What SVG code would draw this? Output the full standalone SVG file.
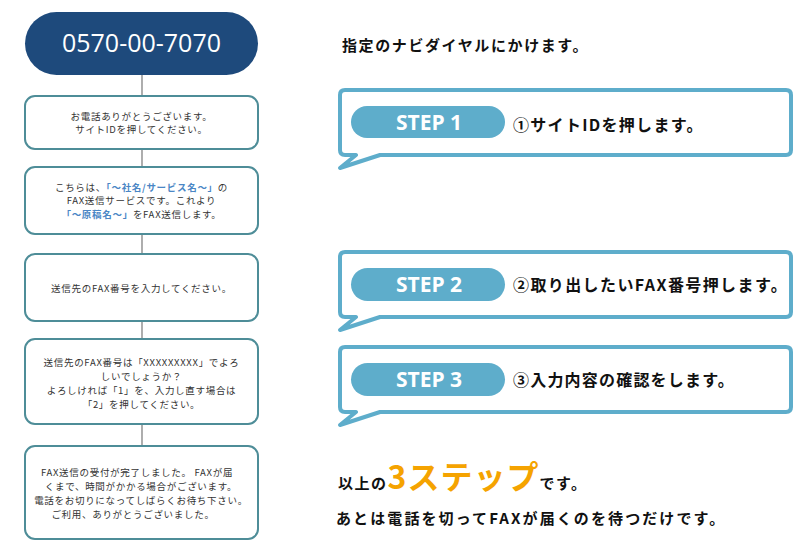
<svg xmlns="http://www.w3.org/2000/svg" width="795" height="550" viewBox="0 0 795 550">
<style>
.box{fill:#fff;stroke:#4e8d98;stroke-width:2}
.t{font-family:"Noto Sans CJK JP","Noto Sans",sans-serif;font-size:9.5px;letter-spacing:0.7px;fill:#333;text-anchor:middle}
.hl{fill:#4a86c5;font-weight:bold}
.bub{fill:#fff;stroke:#5eadcb;stroke-width:4;stroke-linejoin:round}
.sp{fill:#5eadcb}
.st{font-family:"Open Sans","Noto Sans",sans-serif;font-weight:bold;font-size:21px;fill:#fff;text-anchor:middle}
.r{font-family:"Noto Sans CJK JP",sans-serif;font-weight:bold;fill:#111}
.conn{stroke:#777;stroke-width:1.2}
</style>
<rect width="795" height="550" fill="#fff"/>
<g id="connectors">
<line class="conn" x1="142" y1="75" x2="142" y2="96"/>
<line class="conn" x1="142" y1="149" x2="142" y2="167"/>
<line class="conn" x1="142" y1="234" x2="142" y2="254"/>
<line class="conn" x1="142" y1="321" x2="142" y2="339"/>
<line class="conn" x1="142" y1="424" x2="142" y2="446"/>
</g>
<g id="start">
<rect x="25" y="12" width="233" height="63" rx="31.5" fill="#1e4a7c"/>
<text x="141.5" y="52" font-family="'Open Sans','Noto Sans',sans-serif" font-size="25" fill="#fff" text-anchor="middle">0570-00-7070</text>
</g>
<g id="box1">
<rect class="box" x="25" y="96" width="233" height="53" rx="10"/>
<text class="t" x="141.5" y="119.5">お電話ありがとうございます。</text>
<text class="t" x="141.5" y="133">サイトIDを押してください。</text>
</g>
<g id="box2">
<rect class="box" x="25" y="167" width="233" height="67" rx="10"/>
<text class="t" x="141.5" y="190.5">こちらは、<tspan class="hl">「～社名/サービス名～」</tspan>の</text>
<text class="t" x="141.5" y="204">FAX送信サービスです。これより</text>
<text class="t" x="141.5" y="217.5"><tspan class="hl">「～原稿名～」</tspan>をFAX送信します。</text>
</g>
<g id="box3">
<rect class="box" x="25" y="254" width="233" height="67" rx="10"/>
<text class="t" x="141.5" y="292">送信先のFAX番号を入力してください。</text>
</g>
<g id="box4">
<rect class="box" x="25" y="339" width="233" height="85" rx="10"/>
<text class="t" x="141.5" y="366">送信先のFAX番号は「XXXXXXXXX」でよろ</text>
<text class="t" x="141.5" y="380">しいでしょうか？</text>
<text class="t" x="141.5" y="394">よろしければ「1」を、入力し直す場合は</text>
<text class="t" x="141.5" y="408">「2」を押してください。</text>
</g>
<g id="box5">
<rect class="box" x="25" y="446" width="233" height="93" rx="10"/>
<text class="t" x="137" y="476">FAX送信の受付が完了しました。 FAXが届</text>
<text class="t" x="141" y="490">くまで、時間がかかる場合がございます。</text>
<text class="t" x="141" y="504">電話をお切りになってしばらくお待ち下さい。</text>
<text class="t" x="133" y="518">ご利用、ありがとうございました。</text>
</g>
<g id="intro">
<text class="r" x="342" y="51" font-size="15" letter-spacing="1.6">指定のナビダイヤルにかけます。</text>
</g>
<g id="step1">
<path class="bub" d="M345,90 H786 Q791,90 791,95 V150 Q791,155 786,155 H380 L340,168 L356,155 H345 Q340,155 340,150 V95 Q340,90 345,90 Z"/>
<rect class="sp" x="351" y="106" width="154" height="32" rx="16"/>
<text class="st" x="429" y="130">STEP 1</text>
<text class="r" x="513" y="131" font-size="16" letter-spacing="1.3">①サイトIDを押します。</text>
</g>
<g id="step2">
<path class="bub" d="M345,252 H786 Q791,252 791,257 V312 Q791,317 786,317 H380 L340,330 L356,317 H345 Q340,317 340,312 V257 Q340,252 345,252 Z"/>
<rect class="sp" x="351" y="268" width="154" height="33" rx="16.5"/>
<text class="st" x="429" y="292">STEP 2</text>
<text class="r" x="513" y="291" font-size="16" letter-spacing="1.4">②取り出したいFAX番号押します。</text>
</g>
<g id="step3">
<path class="bub" d="M345,347 H786 Q791,347 791,352 V407 Q791,412 786,412 H380 L340,425 L356,412 H345 Q340,412 340,407 V352 Q340,347 345,347 Z"/>
<rect class="sp" x="351" y="363" width="154" height="33" rx="16.5"/>
<text class="st" x="429" y="387">STEP 3</text>
<text class="r" x="513" y="386" font-size="16" letter-spacing="1.2">③入力内容の確認をします。</text>
</g>
<g id="summary">
<text class="r" x="338" y="489" font-size="15" letter-spacing="1.5">以上の<tspan fill="#f5a300" font-size="32" letter-spacing="1">3ステップ</tspan>です。</text>
<text class="r" x="336" y="524" font-size="15" letter-spacing="2.1">あとは電話を切ってFAXが届くのを待つだけです。</text>
</g>
</svg>
